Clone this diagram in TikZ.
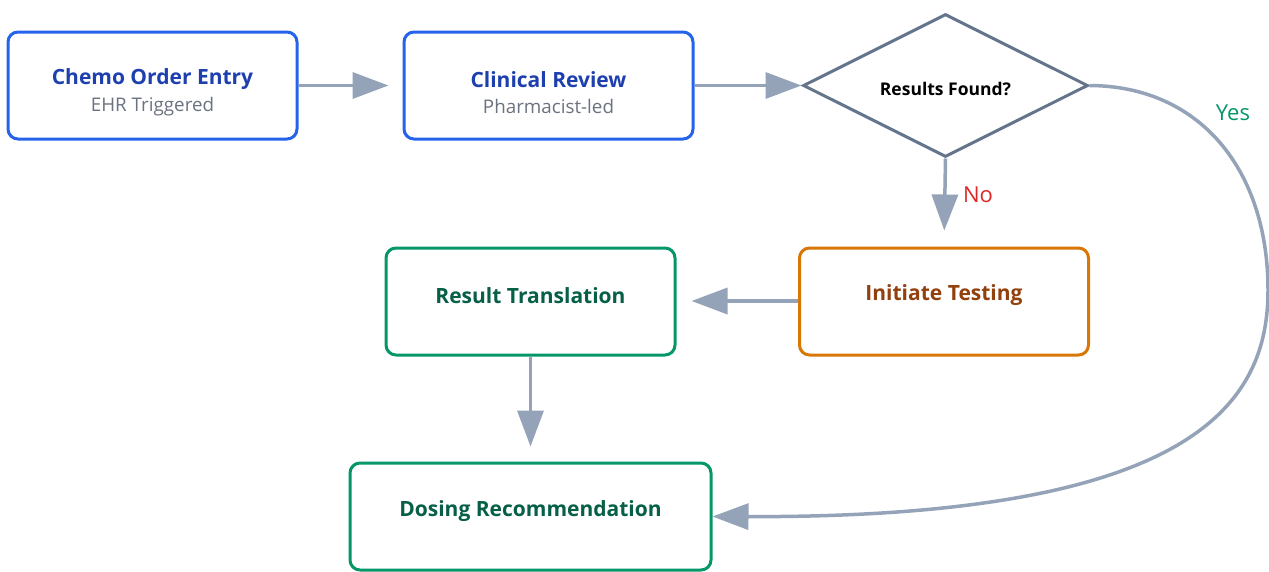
\documentclass[tikz,border=0pt]{standalone}
\usepackage{fontspec}
\setmainfont{Open Sans}
\usetikzlibrary{arrows.meta,shapes.geometric}

\definecolor{bluebd}{HTML}{2563EB}
\definecolor{bluetx}{HTML}{1E40AF}
\definecolor{subtx}{HTML}{6B7280}
\definecolor{arrowc}{HTML}{94A3B8}
\definecolor{slatebd}{HTML}{64748B}
\definecolor{orangebd}{HTML}{D97706}
\definecolor{orangetx}{HTML}{92400E}
\definecolor{greenbd}{HTML}{059669}
\definecolor{greentx}{HTML}{065F46}
\definecolor{nored}{HTML}{DC2626}

\tikzset{
  stepbox/.style={draw, line width=3pt, rounded corners=10pt, fill=white,
    minimum width=#1, minimum height=107pt, inner sep=0pt},
  bluebox/.style={stepbox=289pt, draw=bluebd},
  greenbox/.style={stepbox=289pt, draw=greenbd},
  orangebox/.style={stepbox=289pt, draw=orangebd},
  title/.style={font=\bfseries\fontsize{21}{25}\selectfont, inner sep=0pt},
  subtitle/.style={font=\fontsize{18.8}{22}\selectfont, text=subtx, inner sep=0pt},
  flow/.style={draw=arrowc, line width=3.5pt, -{Triangle[length=36pt,width=26pt]}},
  edgelabel/.style={font=\fontsize{22}{26}\selectfont, inner sep=0pt},
}

\begin{document}
\begin{tikzpicture}[x=1pt,y=-1pt]
\useasboundingbox (0,0) rectangle (1269,571);

% process boxes
\node[bluebox]   (order)    at (152.5,85.5)  {};
\node[bluebox]   (review)   at (548.5,85.5)  {};
\node[orangebox] (testing)  at (944,301.5)   {};
\node[greenbox]  (translate) at (530.5,301.5) {};
\node[stepbox=361pt, draw=greenbd] (dosing) at (530.5,516.5) {};

% decision
\node[diamond, draw=slatebd, line width=3pt, fill=white, inner sep=0pt,
      minimum width=285pt, minimum height=143pt] (found) at (945.5,85.5) {};

% box texts
\node[title, text=bluetx] (orderT) at ([yshift=6pt]order.center) {Chemo Order Entry};
\node[subtitle] (orderS) at ([yshift=-21pt]order.center) {EHR Triggered};
\node[title, text=bluetx] (reviewT) at ([yshift=6pt]review.center) {Clinical Review};
\node[subtitle] (reviewS) at ([yshift=-21pt]review.center) {Pharmacist-led};
\node[title, text=orangetx] (testingT) at ([yshift=6pt]testing.center) {Initiate Testing};
\node[title, text=greentx] (translateT) at ([yshift=6pt]translate.center) {Result Translation};
\node[title, text=greentx] (dosingT) at ([yshift=5pt]dosing.center) {Dosing Recommendation};
\node[font=\bfseries\fontsize{17.5}{21}\selectfont, inner sep=0pt] (foundT) at ([yshift=-3pt]found.center) {Results Found?};

% connectors
\draw[flow, shorten >=14pt] (order.east) -- (review.west);
\draw[flow] (review.east) -- (found.west);
\draw[flow, shorten >=16pt] (found.south) -- (testing.north);
\draw[flow, shorten >=15pt] (testing.west |- 0,301) -- (translate.east |- 0,301);
\draw[flow, shorten >=15pt] (translate.south) -- (dosing.north);
\coordinate (bend) at (1268,290);
\draw[flow] (found.east) .. controls (1200,86) and (1268,170) .. (bend)
  .. controls (1268,400) and (1200,518) .. (dosing.east);

% branch labels
\node[edgelabel, text=nored] (noL) at (978,195) {No};
\node[edgelabel, text=greenbd] (yesL) at (1233,113) {Yes};
\end{tikzpicture}
\end{document}
